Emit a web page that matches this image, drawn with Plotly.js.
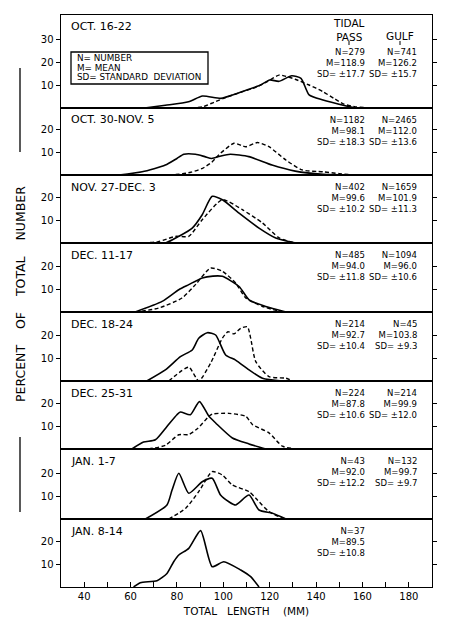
<!DOCTYPE html>
<html>
<head>
<meta charset="utf-8">
<script src="https://cdn.plot.ly/plotly-3.0.1.min.js"></script>
<style>
  body { margin: 0; background: #fff; }
  #plotArea { width: 450px; height: 626px; }
</style>
</head>
<body>
<div id="plotArea"></div>
<script>
// weekly periods, top to bottom
var periods = ["OCT. 16-22", "OCT. 30-NOV. 5", "NOV. 27-DEC. 3", "DEC. 11-17",
               "DEC. 18-24", "DEC. 25-31", "JAN. 1-7", "JAN. 8-14"];

// summary stats: tidal pass / gulf
var passN  = ["279", "1182", "402", "485", "214", "224", "43", "37"];
var passM  = ["118.9", "98.1", "99.6", "94.0", "92.7", "87.8", "92.0", "89.5"];
var passSD = ["17.7", "18.3", "10.2", "11.8", "10.4", "10.6", "12.2", "10.8"];
var gulfN  = ["741", "2465", "1659", "1094", "45", "214", "132", null];
var gulfM  = ["126.2", "112.0", "101.9", "96.0", "103.8", "99.9", "99.7", null];
var gulfSD = ["15.7", "13.6", "11.3", "10.6", "9.3", "12.0", "9.7", null];

var keyLines = ["N= NUMBER", "M= MEAN", "SD= STANDARD  DEVIATION"];

// length-frequency curves (total length mm, percent of total number)
var passLen1 = [66, 75, 85, 91, 99, 105, 111, 116, 120, 124, 129.5, 133.5, 137, 143, 153, 157];
var passPct1 = [0, 1.2, 2.7, 5.2, 4.2, 6.0, 8.1, 10.0, 12.2, 11.6, 14.0, 12.9, 5.7, 3.5, 0.9, 0];
var gulfLen1 = [75, 85, 91, 96, 102, 108, 114, 119, 124, 128, 131, 137, 143, 148, 152, 157, 165, 180];
var gulfPct1 = [0, 0, 0.5, 2.5, 4.9, 7.0, 9.0, 11.5, 14.3, 13.5, 12.5, 10.0, 7.1, 4.0, 1.7, 0.5, 0, 0];

var passLen2 = [55, 65, 75, 80, 83, 88, 92, 95, 99, 103, 111, 121, 131, 143, 154];
var passPct2 = [0, 1.4, 4.3, 7.2, 9.0, 9.0, 8.0, 7.2, 8.3, 9.0, 8.0, 4.3, 1.7, 0.3, 0];
var gulfLen2 = [71, 81, 86, 91, 95, 98, 104.6, 109.7, 114.7, 119.7, 127, 134, 143, 150, 157];
var gulfPct2 = [0, 0.3, 1.2, 2.9, 5.5, 8.7, 13.8, 12.3, 14.1, 12.3, 6.5, 2.2, 1.4, 0.6, 0];

var passLen3 = [65.6, 75, 80.8, 86.6, 90.9, 95.2, 99.6, 106.8, 115.4, 122.6, 131.3];
var passPct3 = [0, 0, 2.9, 6.5, 12.3, 20.3, 18.8, 13.0, 6.5, 2.2, 0];
var gulfLen3 = [65.6, 72, 79.4, 85.1, 90.9, 99.6, 108.2, 116.9, 124.1, 131.3, 147];
var gulfPct3 = [0, 0.6, 2.9, 2.9, 10.1, 18.8, 14.5, 8.7, 2.2, 0, 0];

var passLen4 = [62, 73.6, 80.8, 85.1, 90.9, 95.5, 99.6, 106.8, 111.1, 118.3, 127];
var passPct4 = [0, 4.6, 9.7, 11.9, 14.8, 15.6, 15.5, 11.1, 5.3, 2.4, 0];
var gulfLen4 = [62, 72.1, 82.2, 88, 94.5, 99.6, 105.3, 109.7, 116.9, 125.5];
var gulfPct4 = [0, 1.7, 6.1, 11.9, 19.1, 17.7, 12.6, 6.1, 2.4, 0];

var passLen5 = [67, 75, 81.5, 86.6, 89.4, 93.1, 96.7, 101, 105.3, 111.1, 116.9, 125.5];
var passPct5 = [0, 4.8, 10.6, 13.5, 18.6, 21.0, 20.0, 11.3, 9.1, 4.8, 1.2, 0];
var gulfLen5 = [76.5, 85.1, 89.4, 94.5, 99.6, 102, 104.6, 107.5, 110.4, 111.8, 114, 119.7, 127, 130];
var gulfPct5 = [0, 6.0, 0, 7.7, 18.6, 21.4, 20.5, 22.9, 23.6, 18.6, 8.4, 1.9, 1.2, 0];

var passLen6 = [60.6, 65.6, 70.7, 75.7, 80, 81.5, 85.8, 89.7, 93.8, 96.7, 103.9, 111.1, 118.3];
var passPct6 = [0, 3.0, 4.0, 9.8, 14.9, 16.1, 14.9, 20.6, 14.2, 11.3, 4.8, 2.2, 0];
var gulfLen6 = [67.8, 75, 80.8, 85.1, 89, 93.8, 95.2, 102.4, 109.7, 112.6, 119.7, 125.5, 131.3];
var gulfPct6 = [0, 1.6, 6.2, 6.3, 9.0, 14.2, 15.2, 15.5, 14.2, 10.6, 7.0, 1.2, 0];

var passLen7 = [66.4, 75.7, 77.9, 80.8, 85.1, 90.9, 95.2, 98.8, 102.4, 105.3, 111.1, 115.4, 121.2, 127];
var passPct7 = [0, 6.1, 12.6, 19.9, 11.2, 16.2, 17.7, 10.4, 7.5, 6.1, 10.4, 3.9, 2.5, 0];
var gulfLen7 = [76.5, 83.7, 89.4, 95.2, 99.6, 103.9, 111.1, 114, 119.7, 125.5, 128.3];
var gulfPct7 = [0, 4.6, 11.9, 20.6, 19.1, 14.8, 11.9, 9.0, 3.2, 0.4, 0];

var passLen8 = [61.3, 64.2, 71.4, 75.7, 78.6, 80.8, 85.1, 90.2, 95.2, 100.2, 107.5, 111.8, 115.4];
var passPct8 = [0, 1.9, 2.7, 5.9, 11.0, 13.9, 16.8, 24.5, 8.8, 11.0, 7.4, 4.5, 0];

var passLen = [passLen1, passLen2, passLen3, passLen4, passLen5, passLen6, passLen7, passLen8];
var passPct = [passPct1, passPct2, passPct3, passPct4, passPct5, passPct6, passPct7, passPct8];
var gulfLen = [gulfLen1, gulfLen2, gulfLen3, gulfLen4, gulfLen5, gulfLen6, gulfLen7, null];
var gulfPct = [gulfPct1, gulfPct2, gulfPct3, gulfPct4, gulfPct5, gulfPct6, gulfPct7, null];

var xTickVals = [40, 60, 80, 100, 120, 140, 160, 180];

// panel edges in pixels (top of each panel, then bottom of the last)
var edges = [15, 108, 175, 243, 312, 381, 449, 519, 587];
var L = 61, R = 432, T = 15, B = 587;
function px(x) { return (x - L) / (R - L); }
function py(y) { return (B - y) / (B - T); }
var pxPerUnit = 2.3;

var FONT = "DejaVu Sans";
var data = [];
var layout = {
  width: 450, height: 626,
  margin: {l: L, r: 450 - R, t: T, b: 626 - B},
  paper_bgcolor: "#fff", plot_bgcolor: "#fff",
  showlegend: false,
  font: {family: FONT, size: 8.5, color: "#000"},
  annotations: [], shapes: []
};

for (var i = 0; i < 8; i++) {
  var n = i + 1;
  var xa = "x" + (n === 1 ? "" : n), ya = "y" + (n === 1 ? "" : n);
  var pTop = edges[i], pBot = edges[i + 1];

  data.push({x: passLen[i], y: passPct[i], xaxis: xa, yaxis: ya, mode: "lines",
             line: {color: "#000", width: 1.6, shape: "spline", smoothing: 0.6}});
  if (gulfLen[i]) {
    data.push({x: gulfLen[i], y: gulfPct[i], xaxis: xa, yaxis: ya, mode: "lines",
               line: {color: "#000", width: 1.4, dash: "4px,2.5px", shape: "spline", smoothing: 0.6}});
  }

  var last = (i === 7);
  layout["xaxis" + (n === 1 ? "" : n)] = {
    domain: [0, 1], range: [30, 190], anchor: ya,
    showline: true, mirror: true, linecolor: "#000", linewidth: 1.4,
    showgrid: false, zeroline: false,
    showticklabels: last, ticks: last ? "inside" : "", ticklen: 5, tickcolor: "#000",
    tickvals: last ? xTickVals : [],
    tickfont: {size: 10},
    minor: last ? {dtick: 10, tick0: 30, ticks: "inside", ticklen: 5, tickcolor: "#000"} : undefined,
    title: last ? {text: "TOTAL   LENGTH    (MM)", font: {size: 10.5}, standoff: 6} : undefined
  };
  layout["yaxis" + (n === 1 ? "" : n)] = {
    domain: [py(pBot), py(pTop)], range: [0, (pBot - pTop) / pxPerUnit], anchor: xa,
    showline: true, mirror: "ticks", linecolor: "#000", linewidth: 1.4,
    showgrid: false, zeroline: false,
    ticks: "outside", ticklen: 4, tickcolor: "#000",
    tickvals: i === 0 ? [10, 20, 30] : [10, 20],
    tickfont: {size: 10}
  };

  // period label
  layout.annotations.push({xref: "paper", yref: "paper", x: px(69), y: py(pTop + 12),
    xanchor: "left", yanchor: "middle", showarrow: false, text: periods[i],
    font: {size: 11}});

  // stats
  var sTop = i === 0 ? 45 : pTop + 5;
  layout.annotations.push({xref: "paper", yref: "paper", x: px(367), y: py(sTop),
    xanchor: "right", yanchor: "top", align: "right", showarrow: false,
    text: "N=" + passN[i] + "<br>M=" + passM[i] + "<br>SD= \u00b1" + passSD[i]});
  if (gulfN[i]) {
    layout.annotations.push({xref: "paper", yref: "paper", x: px(419), y: py(sTop),
      xanchor: "right", yanchor: "top", align: "right", showarrow: false,
      text: "N=" + gulfN[i] + "<br>M=" + gulfM[i] + "<br>SD= \u00b1" + gulfSD[i]});
  }
}

// column headings in the first panel
layout.annotations.push({xref: "paper", yref: "paper", x: px(349), y: py(15),
  xanchor: "center", yanchor: "top", showarrow: false, text: "TIDAL<br>PASS",
  font: {size: 10.5}});
layout.annotations.push({xref: "paper", yref: "paper", x: px(400), y: py(28),
  xanchor: "center", yanchor: "top", showarrow: false, text: "GULF",
  font: {size: 10.5}});
layout.shapes.push({type: "line", xref: "paper", yref: "paper",
  x0: px(349), x1: px(349), y0: py(41), y1: py(45), line: {color: "#000", width: 1}});
layout.shapes.push({type: "line", xref: "paper", yref: "paper",
  x0: px(400), x1: px(400), y0: py(41), y1: py(45), line: {color: "#000", width: 1}});

// key box
layout.shapes.push({type: "rect", xref: "paper", yref: "paper",
  x0: px(71), x1: px(208), y0: py(84), y1: py(52), line: {color: "#000", width: 1.3}});
for (var k = 0; k < keyLines.length; k++) {
  layout.annotations.push({xref: "paper", yref: "paper", x: px(75), y: py(58.5 + k * 9.2),
    xanchor: "left", yanchor: "middle", showarrow: false, text: keyLines[k],
    font: {size: 8.8}});
}

// shared y title with rules above and below
layout.annotations.push({xref: "paper", yref: "paper", x: px(20), y: py(294),
  xanchor: "center", yanchor: "middle", showarrow: false, textangle: -90,
  text: "PERCENT    OF    TOTAL    NUMBER", font: {size: 12.5}});
layout.shapes.push({type: "line", xref: "paper", yref: "paper",
  x0: px(20), x1: px(20), y0: py(68), y1: py(152), line: {color: "#000", width: 1.3}});
layout.shapes.push({type: "line", xref: "paper", yref: "paper",
  x0: px(20), x1: px(20), y0: py(437), y1: py(512), line: {color: "#000", width: 1.3}});

Plotly.newPlot("plotArea", data, layout, {staticPlot: true, displayModeBar: false});
</script>
</body>
</html>
